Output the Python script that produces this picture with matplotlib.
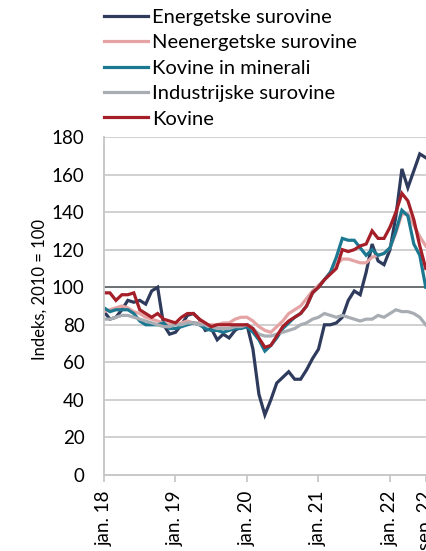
import matplotlib.pyplot as plt
import numpy as np

plt.rcParams['font.family'] = ['Lato', 'DejaVu Sans']

# monthly index values, jan. 2018 .. jul. 2022 (index 2010 = 100)
months = np.arange(55)

energetske = [87, 83, 84, 88, 93, 92, 93, 91, 98, 100, 80, 75, 76, 80, 85, 86, 83, 77, 78, 72,
              75, 73, 77, 79, 80, 67, 43, 32, 40, 49, 52, 55, 51, 51, 56, 62, 67, 80, 80, 81,
              84, 93, 98, 96, 108, 123, 114, 112, 120, 138, 163, 153, 162, 171, 169]
neenergetske = [87, 88, 89, 90, 89, 87, 86, 84, 83, 82, 81, 80, 80, 81, 82, 81, 81, 80, 80, 80,
                81, 81, 83, 84, 84, 82, 79, 77, 76, 79, 82, 86, 88, 90, 94, 98, 101, 104, 108, 112,
                115, 115, 114, 113, 113, 116, 117, 118, 121, 129, 139, 139, 133, 127, 122]
kovine_minerali = [89, 87, 88, 88, 88, 86, 82, 80, 80, 80, 81, 78, 78, 79, 80, 81, 80, 78, 77, 77,
                   76, 77, 78, 78, 79, 76, 72, 66, 69, 73, 78, 81, 84, 86, 90, 97, 100, 104, 108, 116,
                   126, 125, 125, 121, 117, 120, 117, 118, 121, 130, 141, 138, 123, 117, 100]
industrijske = [83, 83, 84, 85, 85, 84, 83, 82, 81, 80, 79, 79, 80, 80, 81, 81, 80, 80, 79, 78,
                78, 78, 79, 79, 80, 78, 75, 74, 74, 75, 76, 77, 78, 80, 81, 83, 84, 86, 85, 84,
                85, 84, 83, 82, 83, 83, 85, 84, 86, 88, 87, 87, 86, 84, 80]
kovine = [97, 97, 93, 96, 96, 97, 88, 86, 84, 86, 83, 82, 81, 84, 86, 86, 83, 81, 79, 80,
          80, 80, 80, 80, 80, 78, 73, 68, 69, 74, 79, 82, 84, 86, 90, 97, 100, 104, 107, 110,
          120, 119, 120, 122, 123, 130, 126, 126, 132, 140, 150, 146, 136, 122, 110]

series = [
    ('Energetske surovine', energetske, '#2f3b5c'),
    ('Neenergetske surovine', neenergetske, '#e5a3a3'),
    ('Kovine in minerali', kovine_minerali, '#1c7891'),
    ('Industrijske surovine', industrijske, '#a8adb4'),
    ('Kovine', kovine, '#a51f29'),
]

tick_pos = [0, 12, 24, 36, 48, 54]
tick_labels = ['jan. 18', 'jan. 19', 'jan. 20', 'jan. 21', 'jan. 22', 'sep. 22']

W, H = 427, 551
fig = plt.figure(figsize=(W / 100, H / 100), dpi=100)
px_month = 5.958
ax = fig.add_axes([104 / W, 1 - 475 / H, 60 * px_month / W, (475 - 137) / H])

for name, vals, color in series:
    ax.plot(months, vals, color=color, lw=2.3, label=name, solid_joinstyle='miter')

ax.set_xlim(0, 60)
ax.set_ylim(0, 180)
ax.set_yticks(range(0, 181, 20))
for y in range(20, 181, 20):
    if y == 100:
        ax.axhline(y, color='#5f6366', lw=1.3, zorder=0.5)
    else:
        ax.axhline(y, color='#cdcdcd', lw=1.3, zorder=0.5)

for side in ['top', 'right']:
    ax.spines[side].set_visible(False)
for side in ['left', 'bottom']:
    ax.spines[side].set_color('#c4c4c4')
    ax.spines[side].set_linewidth(1.3)

ax.set_xticks(tick_pos)
ax.set_xticklabels(tick_labels, rotation=90, va='top', ha='center')
ax.tick_params(axis='x', length=5, width=1.2, color='#c4c4c4', pad=6, labelsize=13.5)
ax.tick_params(axis='y', length=0, pad=14, labelsize=13.5)

fig.text(40 / W, 1 - 289 / H, 'Indeks, 2010 = 100', rotation=90, ha='center', va='center',
         fontsize=12)

fig.legend(loc='upper left', bbox_to_anchor=(104 / W, 1 - 9 / H), frameon=False,
           fontsize=14.5, handlelength=2.2, handletextpad=0.2, labelspacing=0.41,
           borderpad=0, borderaxespad=0)

fig.savefig('out.png', dpi=100)
